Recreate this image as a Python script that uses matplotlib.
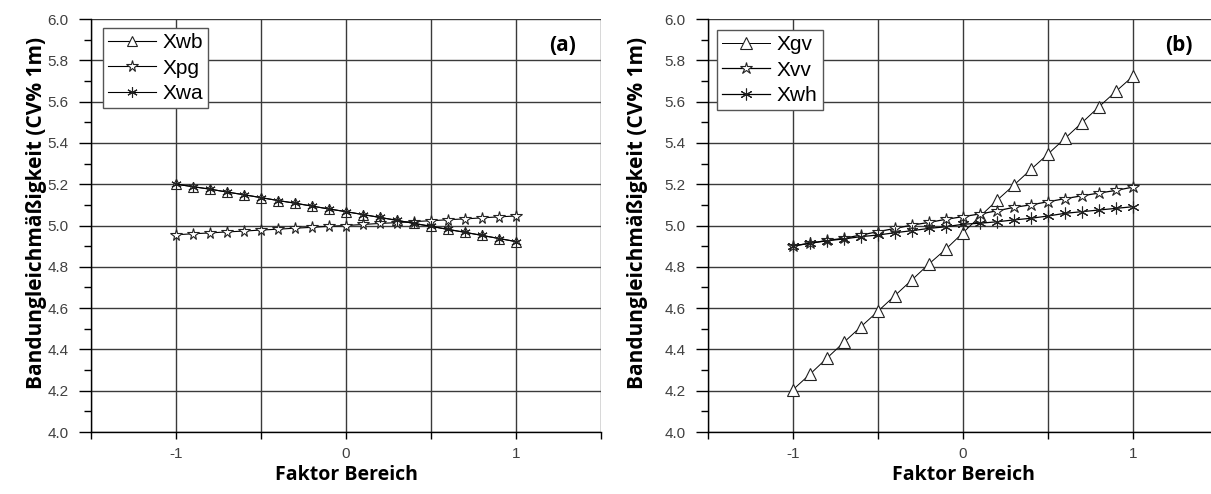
import matplotlib
matplotlib.use("Agg")
import matplotlib.pyplot as plt
from matplotlib.ticker import MultipleLocator, FixedLocator

# ---------------- data ----------------
x = [-1.0, -0.9, -0.8, -0.7, -0.6, -0.5, -0.4, -0.3, -0.2, -0.1, 0.0,
     0.1, 0.2, 0.3, 0.4, 0.5, 0.6, 0.7, 0.8, 0.9, 1.0]

# panel (a)
xwb = [5.200, 5.188, 5.176, 5.162, 5.149, 5.135, 5.121, 5.108, 5.094, 5.080, 5.067,
       5.053, 5.039, 5.025, 5.010, 4.996, 4.981, 4.967, 4.952, 4.937, 4.922]
xpg = [4.955, 4.960, 4.964, 4.969, 4.973, 4.978, 4.982, 4.987, 4.991, 4.996, 5.000,
       5.005, 5.010, 5.014, 5.019, 5.023, 5.028, 5.032, 5.037, 5.042, 5.046]
xwa = [5.200, 5.188, 5.176, 5.162, 5.149, 5.135, 5.121, 5.108, 5.094, 5.080, 5.067,
       5.053, 5.039, 5.025, 5.010, 4.996, 4.981, 4.967, 4.952, 4.937, 4.922]

# panel (b)
xgv = [4.205, 4.280, 4.358, 4.435, 4.510, 4.585, 4.661, 4.737, 4.814, 4.886, 4.965,
       5.044, 5.122, 5.196, 5.272, 5.346, 5.422, 5.498, 5.575, 5.650, 5.723]
xvv = [4.901, 4.914, 4.928, 4.938, 4.954, 4.970, 4.986, 5.002, 5.015, 5.030, 5.043,
       5.056, 5.071, 5.088, 5.100, 5.115, 5.130, 5.144, 5.157, 5.170, 5.186]
xwh = [4.901, 4.914, 4.926, 4.935, 4.946, 4.954, 4.965, 4.975, 4.986, 4.994, 5.006,
       5.011, 5.018, 5.027, 5.035, 5.046, 5.059, 5.067, 5.075, 5.083, 5.091]

x_ticks = [-1.5, -1.0, -0.5, 0.0, 0.5, 1.0, 1.5]
x_ticklabels = ["", "-1", "", "0", "", "1", ""]
y_ticks = [4.0, 4.2, 4.4, 4.6, 4.8, 5.0, 5.2, 5.4, 5.6, 5.8, 6.0]

xlabel = "Faktor Bereich"
ylabel = "Bandungleichmäßigkeit (CV% 1m)"

# ---------------- figure ----------------
W, H = 1211, 494
fig = plt.figure(figsize=(W / 100, H / 100), dpi=100)

bold_family = ["Open Sans", "DejaVu Sans"]
tick_family = ["Liberation Sans", "DejaVu Sans"]

ax_a = fig.add_axes([91 / W, (H - 432) / H, 510 / W, 413 / H])
ax_b = fig.add_axes([708 / W, (H - 432) / H, 510 / W, 413 / H])

grid_color = "#3a3a3a"


def style(ax, tag, ylab_x):
    ax.set_xlim(-1.5, 1.5)
    ax.set_ylim(4.0, 6.0)
    ax.xaxis.set_major_locator(FixedLocator(x_ticks))
    ax.set_xticklabels(x_ticklabels)
    ax.yaxis.set_major_locator(FixedLocator(y_ticks))
    ax.set_yticklabels([f"{v:.1f}" for v in y_ticks])
    ax.yaxis.set_minor_locator(MultipleLocator(0.1))
    ax.grid(True, which="major", color=grid_color, lw=1.0, zorder=0)
    for s in ("top", "right"):
        ax.spines[s].set_visible(False)
    for s in ("left", "bottom"):
        ax.spines[s].set_color("black")
        ax.spines[s].set_linewidth(1.0)
    ax.tick_params(axis="y", which="major", direction="out", length=9, width=1.0,
                   color="black", labelcolor="#404040", labelsize=11, pad=7)
    ax.tick_params(axis="y", which="minor", direction="out", length=5, width=1.0,
                   color="black")
    ax.tick_params(axis="x", which="major", direction="out", length=5, width=1.0,
                   color="black", labelcolor="#404040", labelsize=11, pad=6)
    for lab in ax.get_xticklabels() + ax.get_yticklabels():
        lab.set_family(tick_family)
    ax.set_xlabel(xlabel, family=bold_family, fontweight="bold", fontsize=14,
                  labelpad=3, color="black")
    ax.set_ylabel(ylabel, family=bold_family, fontweight="bold", fontsize=15,
                  color="black", va="center")
    ax.yaxis.set_label_coords(ylab_x, 0.53)
    ax.text(0.951, 0.962, tag, transform=ax.transAxes, ha="right", va="top",
            family=bold_family, fontweight="bold", fontsize=15)
    ax.set_axisbelow(True)


lc = "black"
# panel (a)
ax_a.plot(x, xwb, color=lc, lw=0.8, marker="^", ms=6.5, mfc="white", mec="#222222",
          mew=0.8, label="Xwb", zorder=3)
ax_a.plot(x, xpg, color=lc, lw=0.8, marker="*", ms=8.5, mfc="white", mec="#222222",
          mew=0.8, label="Xpg", zorder=3)
ax_a.plot(x, xwa, color=lc, lw=0.8, marker=(6, 2, 0), ms=7.5, mec="#222222",
          mew=0.8, label="Xwa", zorder=3)

# panel (b)
ax_b.plot(x, xgv, color=lc, lw=0.7, marker="^", ms=8.5, mfc="white", mec="#222222",
          mew=0.8, label="Xgv", zorder=3)
ax_b.plot(x, xvv, color=lc, lw=0.9, marker="*", ms=9, mfc="white", mec="#222222",
          mew=0.8, label="Xvv", zorder=3)
ax_b.plot(x, xwh, color=lc, lw=0.9, marker=(6, 2, 0), ms=8.5, mec="#222222",
          mew=0.8, label="Xwh", zorder=3)

style(ax_a, "(a)", -0.106)
style(ax_b, "(b)", -0.139)

for ax, loc in ((ax_a, (0.024, 0.978)), (ax_b, (0.018, 0.973))):
    leg = ax.legend(loc="upper left", bbox_to_anchor=loc, frameon=True,
                    fancybox=False, edgecolor="#555555", framealpha=1,
                    prop={"family": tick_family, "size": 15},
                    handlelength=2.3, handletextpad=0.3, labelspacing=0.3,
                    borderpad=0.25, borderaxespad=0.0)
    leg.get_frame().set_linewidth(1.0)

fig.savefig("out.png", dpi=100)
